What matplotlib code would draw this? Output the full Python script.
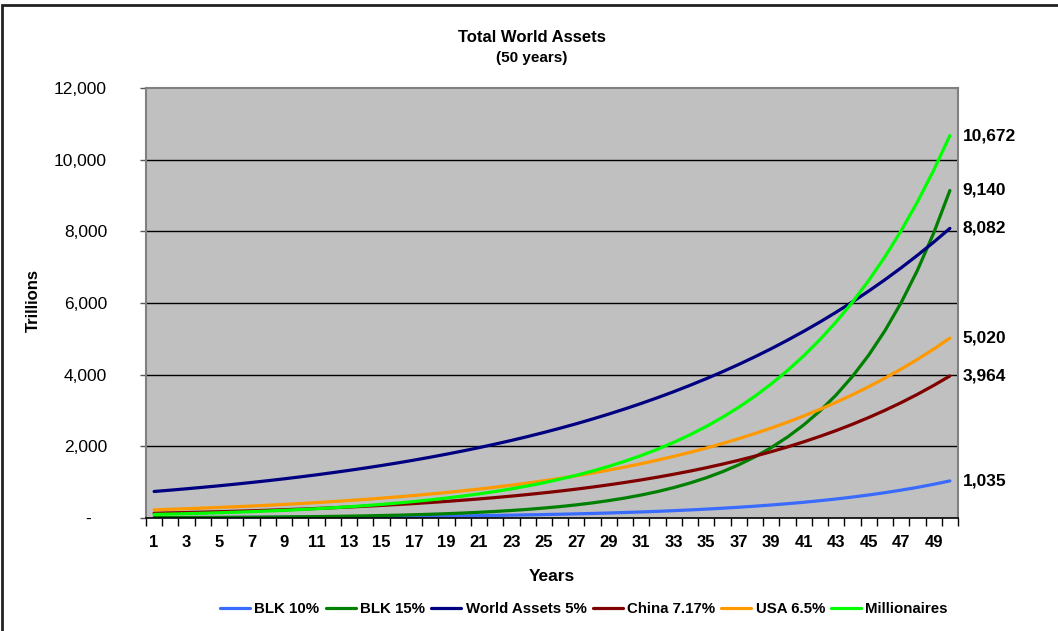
import numpy as np
import matplotlib
matplotlib.use("Agg")
import matplotlib.pyplot as plt
import matplotlib.transforms as mtransforms
from matplotlib.patches import Rectangle

plt.rcParams["font.family"] = ["Liberation Sans", "DejaVu Sans"]

# values (trillions), years 1..50
years = list(range(1, 51))

blk10 = [10, 11, 12, 13, 14, 16, 17, 19, 21, 23,
         25, 28, 31, 34, 37, 41, 45, 49, 54, 59,
         65, 72, 79, 87, 96, 105, 116, 127, 140, 154,
         169, 186, 205, 225, 248, 273, 300, 330, 363, 399,
         439, 483, 531, 584, 643, 707, 778, 855, 941, 1035]

blk15 = [10, 11, 13, 15, 17, 20, 22, 26, 30, 34,
         39, 45, 52, 60, 69, 79, 91, 104, 120, 138,
         159, 183, 210, 241, 278, 319, 367, 422, 486, 558,
         642, 738, 849, 977, 1123, 1292, 1485, 1708, 1965, 2259,
         2598, 2988, 3436, 3951, 4544, 5226, 6010, 6911, 7948, 9140]

world = [740, 777, 816, 857, 899, 944, 992, 1041, 1093, 1148,
         1205, 1266, 1329, 1395, 1465, 1538, 1615, 1696, 1781, 1870,
         1963, 2062, 2165, 2273, 2387, 2506, 2631, 2763, 2901, 3046,
         3198, 3358, 3526, 3703, 3888, 4082, 4286, 4500, 4725, 4962,
         5210, 5470, 5744, 6031, 6333, 6649, 6982, 7331, 7697, 8082]

china = [133, 143, 153, 164, 176, 188, 202, 216, 232, 248,
         266, 285, 306, 328, 351, 376, 403, 432, 463, 497,
         532, 570, 611, 655, 702, 752, 806, 864, 926, 993,
         1064, 1140, 1222, 1309, 1403, 1504, 1611, 1727, 1851, 1983,
         2126, 2278, 2441, 2616, 2804, 3005, 3220, 3451, 3699, 3964]

usa = [229, 244, 260, 277, 295, 314, 334, 356, 379, 404,
       430, 458, 488, 520, 554, 590, 628, 669, 712, 759,
       808, 860, 916, 976, 1040, 1107, 1179, 1256, 1337, 1424,
       1517, 1616, 1721, 1833, 1952, 2079, 2214, 2358, 2511, 2674,
       2848, 3033, 3230, 3440, 3664, 3902, 4156, 4426, 4714, 5020]

millionaires = [100, 110, 121, 133, 146, 161, 177, 195, 214, 236,
                259, 285, 314, 345, 380, 418, 460, 506, 556, 612,
                673, 740, 814, 896, 985, 1084, 1192, 1311, 1442, 1586,
                1745, 1920, 2112, 2323, 2555, 2810, 3091, 3400, 3741, 4115,
                4526, 4979, 5476, 6024, 6627, 7289, 8018, 8820, 9702, 10672]

series = [
    ("BLK 10%", blk10, "#3a6bff"),
    ("BLK 15%", blk15, "#008000"),
    ("World Assets 5%", world, "#000080"),
    ("China 7.17%", china, "#800000"),
    ("USA 6.5%", usa, "#ff9900"),
    ("Millionaires", millionaires, "#00ff00"),
]

fig = plt.figure(figsize=(10.58, 6.31), dpi=100)
ax = fig.add_axes([146 / 1058, 1 - 518 / 631, 812 / 1058, 430 / 631])
ax.set_facecolor("#c0c0c0")

for name, vals, col in series:
    ax.plot(years, vals, color=col, lw=2.3, label=name, solid_capstyle="round")
    ax.text(50.8, vals[-1], f"{vals[-1]:,}", fontsize=12.5, fontweight="bold",
            va="center", ha="left", clip_on=False)

ax.set_xlim(0.5, 50.5)
ax.set_ylim(0, 12000)

yt = np.arange(0, 12001, 2000)
ax.set_yticks(yt)
ax.set_yticklabels(["-"] + [f"{v:,}" for v in yt[1:]], fontsize=12.5)
for v in yt[1:-1]:
    ax.axhline(v, color="black", lw=1, zorder=1)

ax.set_xticks(np.arange(0.5, 51, 1))
ax.set_xticklabels([])
ax.set_xticks(years[::2], minor=True)
ax.set_xticklabels([str(y) for y in years[::2]], minor=True,
                   fontsize=12, fontweight="bold")
ax.tick_params(axis="x", which="major", direction="out", length=6, width=1, color="black")
ax.tick_params(axis="x", which="minor", length=0, pad=12)
ax.tick_params(axis="y", direction="out", length=4, width=1, pad=24, color="#555555")

# Excel puts the zero dash further left
zero_lab = ax.get_yticklabels()[0]
zero_lab.set_transform(zero_lab.get_transform() +
                       mtransforms.ScaledTranslation(-0.16, 0, fig.dpi_scale_trans))

for side in ["left", "right", "top"]:
    ax.spines[side].set_color("#808080")
    ax.spines[side].set_linewidth(1.5)
ax.spines["bottom"].set_color("black")
ax.spines["bottom"].set_linewidth(1.2)

ax.set_xlabel("Years", fontsize=12.5, fontweight="bold", labelpad=14)
fig.text(33 / 1058, 1 - 300 / 631, "Trillions", rotation=90, ha="center", va="center",
         fontsize=12, fontweight="bold")

fig.text(532 / 1058, 1 - 37 / 631, "Total World Assets", ha="center", va="center",
         fontsize=12, fontweight="bold")
fig.text(532 / 1058, 1 - 58 / 631, "(50 years)", ha="center", va="center",
         fontsize=11, fontweight="bold")

fig.legend(loc="center", bbox_to_anchor=(584 / 1058, 1 - 609 / 631), ncol=6,
           frameon=False, prop={"weight": "bold", "size": 10.8},
           handlelength=2.0, handletextpad=0.3, columnspacing=0.4)

fig.patches.append(Rectangle((2 / 1058, -0.05), 1.1, 1 - 5 / 631 + 0.05,
                             transform=fig.transFigure, fill=False,
                             edgecolor="#222222", lw=2))

fig.savefig("out.png", dpi=100)
